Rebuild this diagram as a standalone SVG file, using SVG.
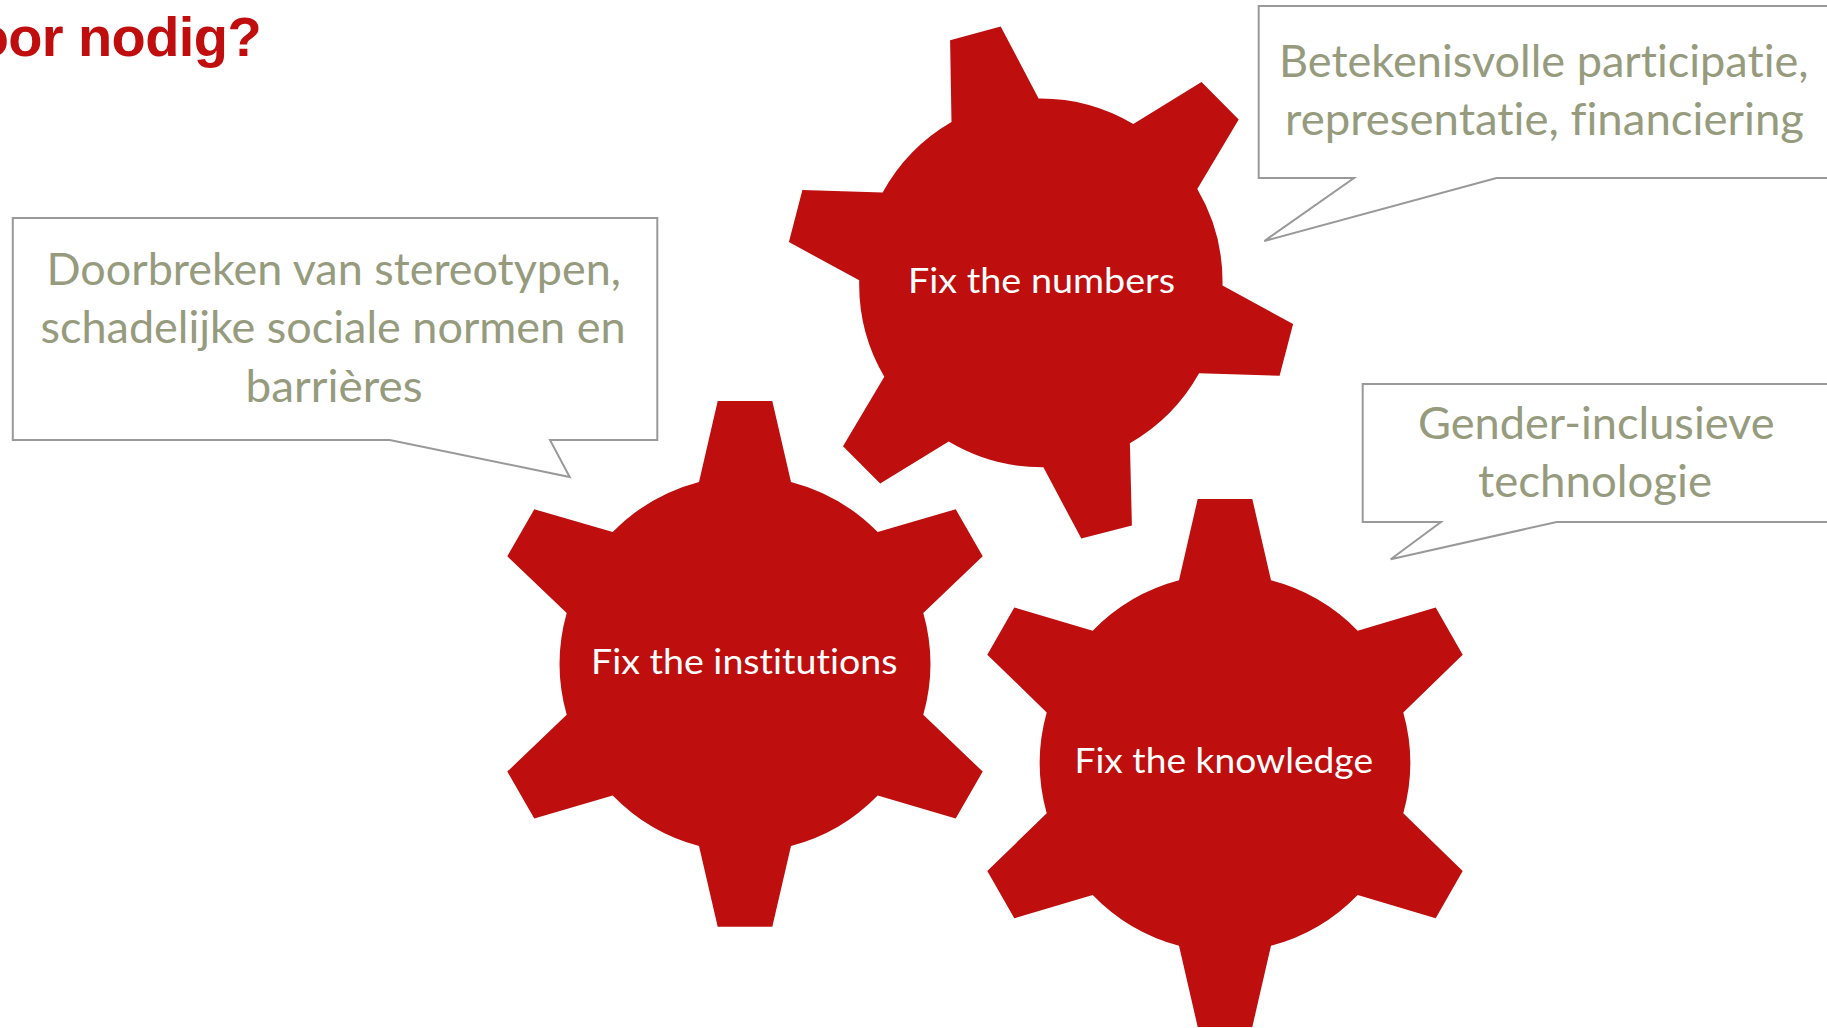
<svg xmlns="http://www.w3.org/2000/svg" width="1827" height="1028" viewBox="0 0 1827 1028">
<style>
.gear{fill:#be0e0e}
.call{fill:#fff;stroke:#999;stroke-width:2;stroke-linejoin:miter}
.ct{font-family:"Lato","Open Sans",sans-serif;font-size:44px;fill:#969b7e;font-variant-ligatures:none}
.gt{font-family:"Lato","Open Sans",sans-serif;font-size:34px;fill:#fff;font-variant-ligatures:none}
.title{font-family:"Liberation Sans",Arial,sans-serif;font-weight:700;font-size:56px;fill:#c00d0d}
</style>
<rect width="1827" height="1028" fill="#fff"/>
<text class="title" x="261" y="56" text-anchor="end" letter-spacing="-0.6">oor nodig?</text>
<g id="connectors"></g>
<g id="gear-numbers">
<path class="gear" d="M950.1 40.3L1000.7 26.5L1038.6 98.5A183 183 0 0 1 1133.3 124L1201.5 82L1238.7 119.5L1197.3 189.1A183 183 0 0 1 1222.5 285.5L1293.1 324L1279.6 375.7L1199.1 373.3A183 183 0 0 1 1129.9 443.2L1131.9 525.5L1081.3 538.6L1043.4 467.3A183 183 0 0 1 948.7 441.5L880.2 483.5L843 446.3L884.3 376.7A183 183 0 0 1 859.2 280.3L788.9 242.1L802.4 190.1L882.6 192.5A183 183 0 0 1 951.5 121.9Z"/>
<text class="gt" x="908" y="292.5" textLength="267" lengthAdjust="spacingAndGlyphs">Fix the numbers</text>
</g>
<g id="gear-institutions">
<path class="gear" d="M717.7 400.9L772.3 400.9L791 481.9A187 187 0 0 1 877.7 532.1L955.7 509.3L982.7 556.3L923.3 613.1A187 187 0 0 1 923.3 714.8L982.7 771.6L955.7 818.6L877.7 795.5A187 187 0 0 1 791 846L772.3 926.7L717.7 926.7L699 846A187 187 0 0 1 612.7 795.5L534.3 818.6L507.3 771.6L566.7 714.8A187 187 0 0 1 566.7 613.1L507.3 556.3L534.3 509.3L612.7 532.1A187 187 0 0 1 699 481.9Z"/>
<text class="gt" x="591" y="674" textLength="306.5" lengthAdjust="spacingAndGlyphs">Fix the institutions</text>
</g>
<g id="gear-knowledge">
<path class="gear" d="M1197.7 498.9L1252.3 498.9L1271 580.3A187 187 0 0 1 1357.7 630.7L1435.7 607.4L1462.7 654.7L1403.3 712.4A187 187 0 0 1 1403.3 813.3L1462.7 870.9L1435.7 918.3L1357.7 894.9A187 187 0 0 1 1271 945.7L1252.3 1027L1197.7 1027L1179 945.7A187 187 0 0 1 1092.7 894.9L1014.3 918.3L987.3 870.9L1046.7 813.3A187 187 0 0 1 1046.7 712.4L987.3 654.7L1014.3 607.4L1092.7 630.7A187 187 0 0 1 1179 580.3Z"/>
<text class="gt" x="1074.5" y="773" textLength="298.5" lengthAdjust="spacingAndGlyphs">Fix the knowledge</text>
</g>
<g id="callout-top">
<path class="call" d="M1258.7 6H1835V178H1496.5L1264.3 241L1354 178H1258.7Z"/>
<text class="ct" x="1279" y="77" textLength="529.5" lengthAdjust="spacingAndGlyphs">Betekenisvolle participatie,</text>
<text class="ct" x="1285" y="135" textLength="519" lengthAdjust="spacingAndGlyphs">representatie, financiering</text>
</g>
<g id="callout-left">
<path class="call" d="M12.8 218H657.3V440H550L569.7 477L389.7 440H12.8Z"/>
<text class="ct" x="46.5" y="285" textLength="574.5" lengthAdjust="spacingAndGlyphs">Doorbreken van stereotypen,</text>
<text class="ct" x="40.5" y="342.7" textLength="585" lengthAdjust="spacingAndGlyphs">schadelijke sociale normen en</text>
<text class="ct" x="245.5" y="401.7" textLength="177" lengthAdjust="spacingAndGlyphs">barrières</text>
</g>
<g id="callout-right">
<path class="call" d="M1362.7 384H1835V522H1556.7L1390.7 559.3L1441 522H1362.7Z"/>
<text class="ct" x="1418" y="439" textLength="356.5" lengthAdjust="spacingAndGlyphs">Gender-inclusieve</text>
<text class="ct" x="1478" y="496.7" textLength="234" lengthAdjust="spacingAndGlyphs">technologie</text>
</g>
</svg>
